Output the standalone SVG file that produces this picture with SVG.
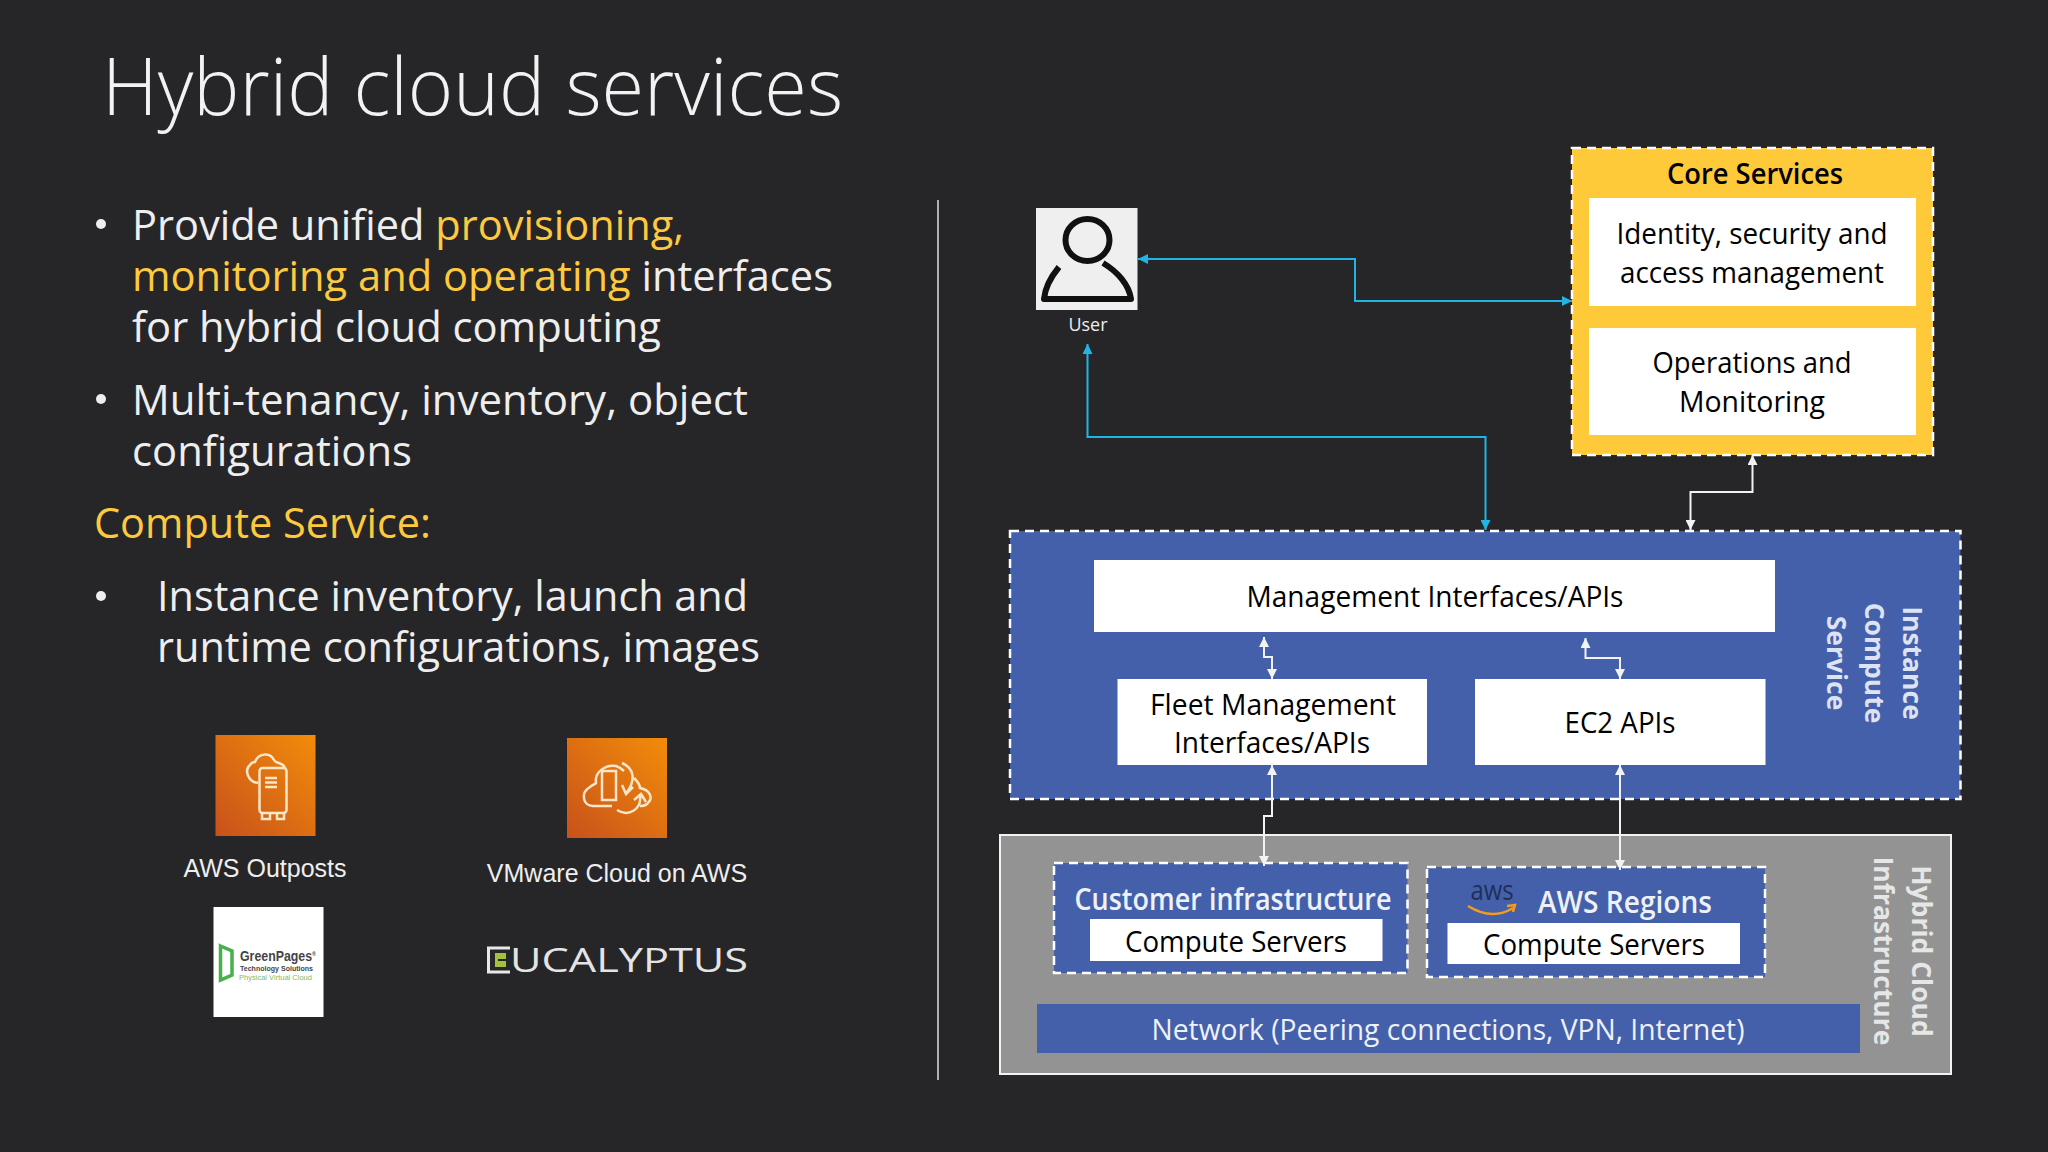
<svg xmlns="http://www.w3.org/2000/svg" width="2048" height="1152" viewBox="0 0 2048 1152">
<style>
.t{font-family:"Open Sans","Noto Sans",sans-serif}
.b{font-size:42px;fill:#eeeeee}
.g{fill:#fdc93f}
.c{font-size:30px;fill:#000;text-anchor:middle}
.w{fill:#fff}
.bl{fill:#4460ab}
.dash{stroke:#fff;stroke-width:2.5;stroke-dasharray:9 6}
.cy{fill:none;stroke:#1fb6e6;stroke-width:2}
.wl{fill:none;stroke:#f2f2f2;stroke-width:2}
.rot{font-size:26.500px;font-weight:700;text-anchor:middle}
.ic{fill:none;stroke:#fbe6c8;stroke-width:2.500}
</style>
<defs>
<marker id="ac" viewBox="0 0 10 10" refX="10" refY="5" markerWidth="10" markerHeight="10" markerUnits="userSpaceOnUse" orient="auto-start-reverse"><path d="M0 0L10 5L0 10z" fill="#1fb6e6"/></marker>
<marker id="aw" viewBox="0 0 10 10" refX="10" refY="5" markerWidth="10" markerHeight="10" markerUnits="userSpaceOnUse" orient="auto-start-reverse"><path d="M0 0L10 5L0 10z" fill="#f2f2f2"/></marker>
<linearGradient id="og" x1="0" y1="1" x2="1" y2="0"><stop offset="0" stop-color="#c8511b"/><stop offset="1" stop-color="#f28c0a"/></linearGradient>
</defs>
<rect width="2048" height="1152" fill="#262628"/>
<text class="t" x="102" y="115" font-size="80" font-weight="300" fill="#f2f2f2" textLength="741" lengthAdjust="spacingAndGlyphs">Hybrid cloud services</text>
<g id="bullets">
<circle cx="101" cy="224" r="5" fill="#eee"/><circle cx="101" cy="399" r="5" fill="#eee"/><circle cx="101" cy="596" r="5" fill="#eee"/>
<text class="t b" x="132" y="240" textLength="552" lengthAdjust="spacingAndGlyphs">Provide unified <tspan class="g">provisioning,</tspan></text>
<text class="t b" x="132" y="291" textLength="701" lengthAdjust="spacingAndGlyphs"><tspan class="g">monitoring and operating</tspan> interfaces</text>
<text class="t b" x="132" y="342" textLength="529" lengthAdjust="spacingAndGlyphs">for hybrid cloud computing</text>
<text class="t b" x="132" y="415" textLength="616" lengthAdjust="spacingAndGlyphs">Multi-tenancy, inventory, object</text>
<text class="t b" x="132" y="466" textLength="280" lengthAdjust="spacingAndGlyphs">configurations</text>
<text class="t b g" x="94" y="538" textLength="337" lengthAdjust="spacingAndGlyphs">Compute Service:</text>
<text class="t b" x="157" y="611" textLength="591" lengthAdjust="spacingAndGlyphs">Instance inventory, launch and</text>
<text class="t b" x="157" y="662" textLength="603" lengthAdjust="spacingAndGlyphs">runtime configurations, images</text>
</g>
<g id="outposts">
<rect x="215.500" y="735" width="100" height="101" fill="url(#og)"/>
<path class="ic" d="M258 783C248 782 244 770 250 765C252 762 254 762 255 762C258 753 270 752 274 760C276 764 283 762 285 768"/>
<rect class="ic" x="259.500" y="768" width="27" height="45" rx="3"/>
<path class="ic" d="M265 778h12M265 782.500h12M265 787h12M262 813v6h8v-6M277 813v6h7v-6"/>
<text x="265" y="877" text-anchor="middle" font-family="Liberation Sans" font-size="25" fill="#eee">AWS Outposts</text>
</g>
<g id="vmware">
<rect x="567" y="738" width="100" height="100" fill="url(#og)"/>
<path class="ic" d="M612 806H593C583 806 580 793 590 787C592 785 595 784 596 783C594 772 606 764 616 766C620 767 622 769 624 771M634 778C638 782 640 786 640 788C650 790 654 798 647 804C645 806 642 806 640 806"/>
<rect class="ic" x="602" y="771" width="14" height="29"/>
<path class="ic" d="M622 763C634 768 636 780 627 792M622 785L626 794L633 787M617 810C628 817 642 810 640 795M634 800L641 794L646 802"/>
<text x="617" y="882" text-anchor="middle" font-family="Liberation Sans" font-size="25" fill="#eee">VMware Cloud on AWS</text>
</g>
<g id="greenpages">
<rect x="213.500" y="907" width="110" height="110" fill="#fff"/>
<path d="M220.500 946L232 951V975L220.500 980z" fill="none" stroke="#46b14a" stroke-width="3.500"/>
<text x="240" y="961" font-family="Liberation Sans" font-size="14" font-weight="700" fill="#444" textLength="76" lengthAdjust="spacingAndGlyphs">GreenPages<tspan font-size="6" dy="-5">®</tspan></text>
<text x="240" y="971" font-family="Liberation Sans" font-size="7.500" font-weight="700" fill="#444" textLength="73" lengthAdjust="spacingAndGlyphs">Technology Solutions</text>
<text x="239" y="980" font-family="Liberation Sans" font-size="7.500" fill="#7dbb6c" textLength="73" lengthAdjust="spacingAndGlyphs">Physical Virtual Cloud</text>
</g>
<g id="eucalyptus">
<path d="M510 948H488.500V972H510" fill="none" stroke="#e8e8e8" stroke-width="3"/>
<rect x="495" y="953" width="11" height="14" fill="#a4c03c"/>
<path d="M498 960h8" stroke="#222" stroke-width="2"/>
<text class="t" x="510" y="972" font-size="33.500" fill="#e4e4e4" textLength="238" lengthAdjust="spacingAndGlyphs">UCALYPTUS</text>
</g>
<line x1="938" y1="200" x2="938" y2="1080" stroke="#b0b0b0" stroke-width="2"/>
<g id="user">
<rect x="1036" y="208" width="101.500" height="102" fill="#f0eff0"/>
<ellipse cx="1087.500" cy="240" rx="22" ry="21" fill="none" stroke="#111" stroke-width="6"/>
<path d="M1059 267C1050 278 1045 288 1044 299H1131C1129 285 1118 272 1103 263" fill="none" stroke="#111" stroke-width="6" stroke-linejoin="round"/>
<text class="t" x="1088" y="331" font-size="19" text-anchor="middle" fill="#eee" textLength="39" lengthAdjust="spacingAndGlyphs">User</text>
</g>
<g id="core">
<rect x="1572" y="148" width="361" height="307" fill="#ffca3a" class="dash"/>
<text class="t" x="1755" y="184" font-size="29" font-weight="600" text-anchor="middle" fill="#000" textLength="176" lengthAdjust="spacingAndGlyphs">Core Services</text>
<rect class="w" x="1589" y="198" width="327" height="108"/>
<text class="t c" x="1752" y="244" textLength="271" lengthAdjust="spacingAndGlyphs">Identity, security and</text>
<text class="t c" x="1752" y="283" textLength="264" lengthAdjust="spacingAndGlyphs">access management</text>
<rect class="w" x="1589" y="328" width="327" height="107"/>
<text class="t c" x="1752" y="373" textLength="199" lengthAdjust="spacingAndGlyphs">Operations and</text>
<text class="t c" x="1752" y="412" textLength="146" lengthAdjust="spacingAndGlyphs">Monitoring</text>
</g>
<g id="instance">
<rect x="1010" y="531" width="950.500" height="268" class="bl dash"/>
<rect class="w" x="1094" y="560" width="681" height="72"/>
<text class="t c" x="1435" y="607" textLength="377" lengthAdjust="spacingAndGlyphs">Management Interfaces/APIs</text>
<rect class="w" x="1117.500" y="679" width="309.500" height="86"/>
<text class="t c" x="1273" y="715" textLength="246" lengthAdjust="spacingAndGlyphs">Fleet Management</text>
<text class="t c" x="1272" y="753" textLength="196" lengthAdjust="spacingAndGlyphs">Interfaces/APIs</text>
<rect class="w" x="1475" y="679" width="290.500" height="86"/>
<text class="t c" x="1620" y="733" textLength="111" lengthAdjust="spacingAndGlyphs">EC2 APIs</text>
<text class="t rot" transform="translate(1903 663) rotate(90)" fill="#dde3f2">Instance</text>
<text class="t rot" transform="translate(1864.500 663) rotate(90)" fill="#dde3f2">Compute</text>
<text class="t rot" transform="translate(1826.500 663) rotate(90)" fill="#dde3f2">Service</text>
</g>
<g id="hybrid">
<rect x="1000" y="835" width="951" height="239" fill="#939393" stroke="#f2f2f2" stroke-width="2"/>
<text class="t rot" transform="translate(1912 951) rotate(90)" fill="#e6e6e6">Hybrid Cloud</text>
<text class="t rot" transform="translate(1874 951) rotate(90)" fill="#e6e6e6">Infrastructure</text>
<rect class="bl" x="1037" y="1004" width="823" height="49"/>
<text class="t" x="1448" y="1040" font-size="30" text-anchor="middle" fill="#eef1f8" textLength="593" lengthAdjust="spacingAndGlyphs">Network (Peering connections, VPN, Internet)</text>
</g>
<g id="customer">
<rect class="bl dash" x="1054" y="863" width="353.500" height="110"/>
<text class="t" x="1233" y="910" font-size="30" font-weight="600" text-anchor="middle" fill="#eef1f8" textLength="317" lengthAdjust="spacingAndGlyphs">Customer infrastructure</text>
<rect class="w" x="1090" y="919" width="292.500" height="42"/>
<text class="t c" x="1236" y="952" textLength="222" lengthAdjust="spacingAndGlyphs">Compute Servers</text>
</g>
<g id="regions">
<rect class="bl dash" x="1427" y="867" width="338" height="110"/>
<text class="t" x="1492" y="900" font-size="28" text-anchor="middle" fill="#1f2f55" textLength="43" lengthAdjust="spacingAndGlyphs">aws</text>
<path d="M1468 906Q1492 921 1513 908M1507 906L1515 905L1513 912" fill="none" stroke="#f39c1f" stroke-width="2.500"/>
<text class="t" x="1625" y="913" font-size="30" font-weight="600" text-anchor="middle" fill="#eef1f8" textLength="174" lengthAdjust="spacingAndGlyphs">AWS Regions</text>
<rect class="w" x="1447.500" y="923" width="292.500" height="41"/>
<text class="t c" x="1594" y="955" textLength="222" lengthAdjust="spacingAndGlyphs">Compute Servers</text>
</g>
<g id="connectors">
<path class="cy" marker-start="url(#ac)" marker-end="url(#ac)" d="M1138 259H1355V301H1572"/>
<path class="cy" marker-start="url(#ac)" marker-end="url(#ac)" d="M1087.500 344V437H1485.500V530"/>
<path class="wl" marker-start="url(#aw)" marker-end="url(#aw)" d="M1752.500 455V492H1690.500V530"/>
<path class="wl" marker-start="url(#aw)" marker-end="url(#aw)" d="M1264 637V657H1272V679"/>
<path class="wl" marker-start="url(#aw)" marker-end="url(#aw)" d="M1585.500 638V658H1620V679"/>
<path class="wl" marker-start="url(#aw)" marker-end="url(#aw)" d="M1272 765V816H1264V866"/>
<path class="wl" marker-start="url(#aw)" marker-end="url(#aw)" d="M1620 765V870"/>
</g>
</svg>
